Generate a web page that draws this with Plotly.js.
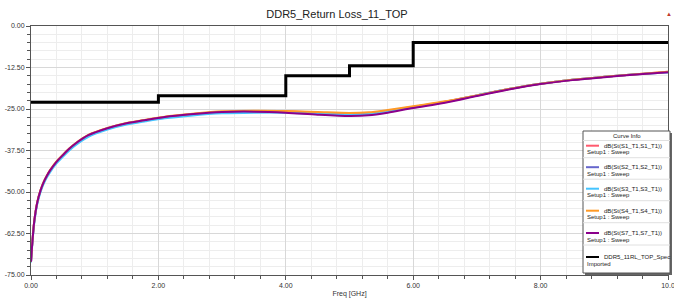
<!DOCTYPE html>
<html><head><meta charset="utf-8">
<script src="https://cdn.plot.ly/plotly-3.0.1.min.js"></script>
<style>html,body{margin:0;padding:0;background:#fff}#c{width:674px;height:298px}</style>
</head><body><div id="c"></div>
<script>
const freq = [0,0.02,0.05,0.1,0.15,0.2,0.25,0.3,0.4,0.5,0.6,0.7,0.9,1.2,1.5,1.8,2.1,2.5,3.0,3.5,4.0,4.5,5.0,5.3,5.6,6.0,6.5,7.0,7.5,8.0,8.5,9.0,9.5,10.0];
const s11 = [-71,-65.5,-59,-53,-49.5,-47,-45.1,-43.5,-40.9,-38.9,-37.0,-35.4,-32.9,-30.8,-29.3,-28.3,-27.4,-26.6,-25.9,-25.6,-25.7,-26.1,-26.4,-26.2,-25.5,-24.3,-22.8,-20.9,-19.0,-17.4,-16.2,-15.3,-14.5,-13.8];
const s22 = [-71,-65.6,-59.1,-53.1,-49.6,-47.1,-45.2,-43.6,-41.0,-39.0,-37.1,-35.5,-33.0,-30.9,-29.4,-28.4,-27.5,-26.7,-26.0,-25.9,-26.0,-26.5,-26.8,-26.6,-25.8,-24.5,-22.9,-20.9,-19.0,-17.4,-16.2,-15.3,-14.5,-13.9];
const s33 = [-71.2,-65.9,-59.5,-53.5,-50.0,-47.5,-45.6,-44.0,-41.4,-39.4,-37.5,-35.9,-33.4,-31.2,-29.7,-28.7,-27.8,-27.0,-26.3,-26.1,-26.1,-26.4,-26.7,-26.5,-25.7,-24.4,-22.9,-20.9,-19.0,-17.4,-16.2,-15.3,-14.5,-13.9];
const s44 = [-71,-65.4,-58.9,-52.9,-49.4,-46.9,-45.0,-43.4,-40.8,-38.8,-36.9,-35.3,-32.8,-30.7,-29.2,-28.2,-27.3,-26.5,-25.7,-25.5,-25.6,-25.9,-26.2,-26.0,-25.3,-24.2,-22.7,-20.9,-19.0,-17.4,-16.2,-15.3,-14.5,-13.8];
const s77 = [-71,-65.5,-59,-53,-49.5,-47,-45.1,-43.5,-40.9,-38.9,-37.0,-35.4,-32.9,-30.8,-29.3,-28.3,-27.4,-26.6,-25.9,-25.8,-26.1,-26.7,-27.1,-26.9,-26.1,-24.7,-23.1,-21.1,-19.1,-17.5,-16.3,-15.4,-14.6,-13.9];
const specFreq = [0,2,2,4,4,5,5,6,6,10];
const specVal = [-23,-23,-21,-21,-15,-15,-12,-12,-5,-5];
const seriesNames = ["dB(St(S1_T1,S1_T1))","dB(St(S2_T1,S2_T1))","dB(St(S3_T1,S3_T1))","dB(St(S4_T1,S4_T1))","dB(St(S7_T1,S7_T1))","DDR5_11RL_TOP_Spec"];
const seriesSub = ["Setup1 : Sweep","Setup1 : Sweep","Setup1 : Sweep","Setup1 : Sweep","Setup1 : Sweep","Imported"];
const xTickVals = [0,2,4,6,8,10];
const xTickText = ["0.00","2.00","4.00","6.00","8.00","10.0"];
const yTickVals = [0,-12.5,-25,-37.5,-50,-62.5,-75];
const yTickText = ["0.00","-12.50","-25.00","-37.50","-50.00","-62.50","-75.00"];

const colors = ["#ff5a6e","#6666cc","#44c4ff","#ff9a26","#8b008b","#000000"];
const ys = [s11,s22,s33,s44,s77];
const traces = ys.map((y,i)=>({
  x: freq, y: y, type:'scatter', mode:'lines',
  line:{color:colors[i], width:2, shape:'spline', smoothing:0.8},
  name: seriesNames[i], showlegend:false
}));
traces.push({x:specFreq, y:specVal, type:'scatter', mode:'lines',
  line:{color:colors[5], width:3}, name: seriesNames[5], showlegend:false});

// plot area in px
const L=31, R=668, T=26, B=275;
const px = v => (v-L)/(R-L);
const py = v => (B-v)/(B-T);
const FF = 'Liberation Sans, Arial, sans-serif';
const shapes = [];
const annotations = [];
// legend box (Curve Info)
const bx0=583, bx1=670, by0=131, by1=273;
shapes.push({type:'rect', xref:'paper', yref:'paper', x0:px(bx0+2), x1:px(bx1+2), y0:py(by1+2), y1:py(by0+2),
  fillcolor:'#666', line:{width:0}});
shapes.push({type:'rect', xref:'paper', yref:'paper', x0:px(bx0), x1:px(bx1), y0:py(by1), y1:py(by0),
  fillcolor:'#fff', line:{color:'#555', width:1}});
annotations.push({xref:'paper', yref:'paper', x:px((bx0+bx1)/2), y:py(136), text:'Curve Info', showarrow:false,
  xanchor:'center', yanchor:'middle', font:{family:FF, size:6, color:'#222'}});
const entryY = [145.7, 167.2, 188.7, 210.7, 233.0, 257.0];
seriesNames.forEach((n,i)=>{
  const ey = entryY[i];
  shapes.push({type:'line', xref:'paper', yref:'paper', x0:px(586), x1:px(599), y0:py(ey), y1:py(ey),
    line:{color:colors[i], width:2}});
  annotations.push({xref:'paper', yref:'paper', x:px(602), y:py(ey), text:n, showarrow:false,
    xanchor:'left', yanchor:'middle', font:{family:FF, size:6, color:'#222'}});
  annotations.push({xref:'paper', yref:'paper', x:px(585), y:py(ey+6.5), text:seriesSub[i], showarrow:false,
    xanchor:'left', yanchor:'middle', font:{family:FF, size:6, color:'#222'}});
  if (i<5) shapes.push({type:'line', xref:'paper', yref:'paper', x0:px(bx0), x1:px(bx1), y0:py(ey+12), y1:py(ey+12),
    line:{color:'#e0e0e0', width:1}});
});
shapes.push({type:'line', xref:'paper', yref:'paper', x0:px(bx0), x1:px(bx1), y0:py(140.5), y1:py(140.5),
  line:{color:'#e0e0e0', width:1}});
annotations.push({xref:'paper', yref:'paper', x:px(669), y:py(14), text:'▲', showarrow:false,
  font:{size:6, color:'#c0392b'}, xanchor:'center', yanchor:'middle'});

const tf = {family:FF, size:7, color:'#333'};
const layout = {
  width:674, height:298,
  margin:{l:L, r:674-R, t:T, b:298-B},
  paper_bgcolor:'#fff', plot_bgcolor:'#fff',
  title:{text:'DDR5_Return Loss_11_TOP', x:0.5, xanchor:'center', y:0.953, yanchor:'middle',
    font:{family:FF, size:11, color:'#222'}},
  xaxis:{range:[0,10], tickvals:xTickVals, ticktext:xTickText, tickfont:tf, automargin:false, ticklabeloverflow:'allow',
    showline:true, linecolor:'#555', linewidth:1, mirror:true, ticks:'outside', ticklen:4, tickcolor:'#555',
    showgrid:true, gridcolor:'#d8d8d8', gridwidth:1, zeroline:false,
    minor:{dtick:0.4, tick0:0, showgrid:true, gridcolor:'#ededed', ticks:'outside', ticklen:3, tickcolor:'#555'},
    title:{text:'Freq [GHz]', font:tf, standoff:4}},
  yaxis:{range:[-75,0], tickvals:yTickVals, ticktext:yTickText, tickfont:tf, automargin:false, ticklabeloverflow:'allow',
    showline:true, linecolor:'#555', linewidth:1, mirror:true, ticks:'outside', ticklen:4, tickcolor:'#555',
    showgrid:true, gridcolor:'#d8d8d8', gridwidth:1, zeroline:false,
    minor:{dtick:2.5, tick0:0, showgrid:true, gridcolor:'#ededed', ticks:'outside', ticklen:3, tickcolor:'#555'}},
  showlegend:false,
  shapes: shapes,
  annotations: annotations
};
Plotly.newPlot('c', traces, layout, {displayModeBar:false, staticPlot:true});
</script></body></html>
